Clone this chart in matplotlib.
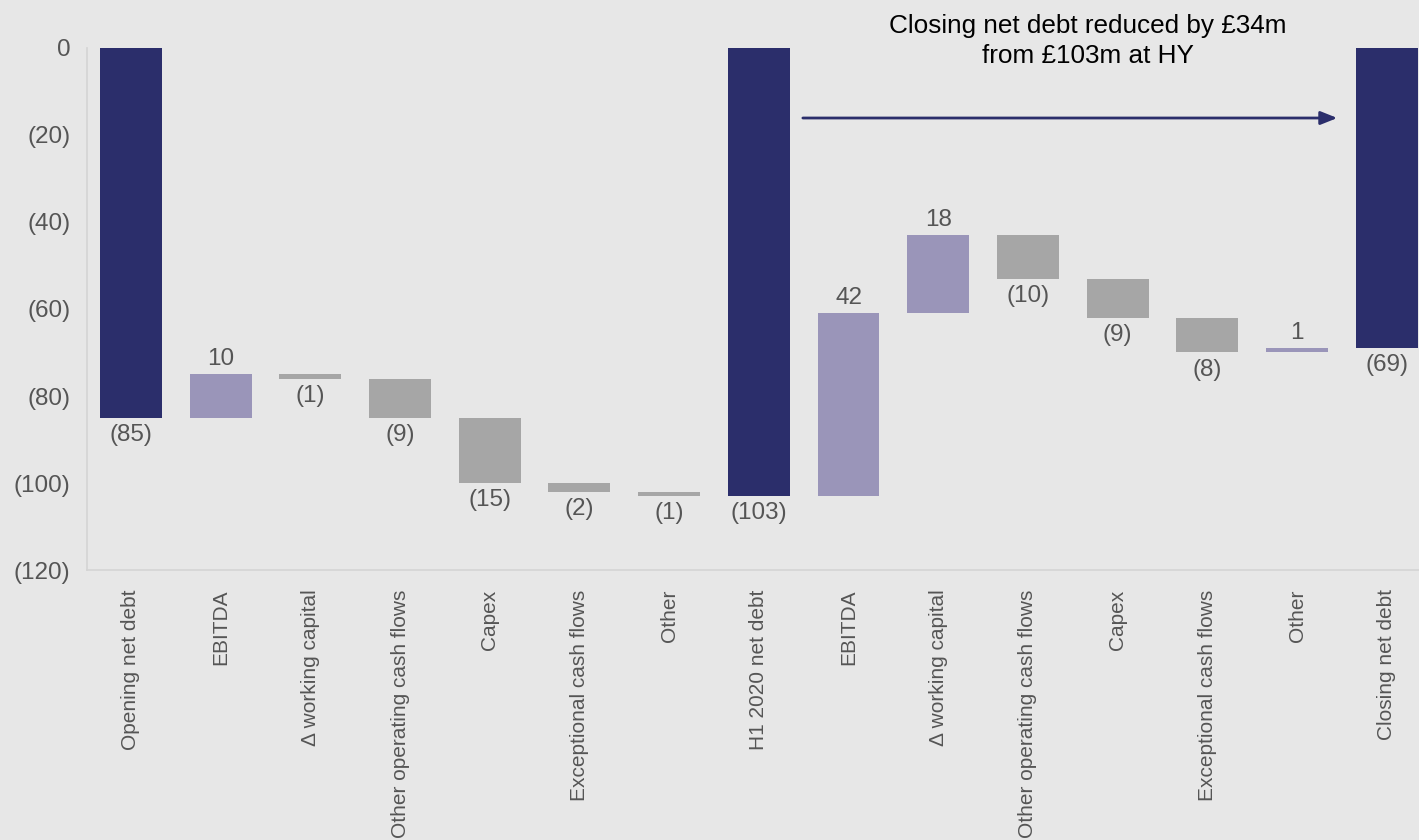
import matplotlib.pyplot as plt
from matplotlib.ticker import FuncFormatter

plt.rcParams['font.family'] = ['Liberation Sans', 'DejaVu Sans']

categories = ["Opening net debt", "EBITDA", "\u0394 working capital",
              "Other operating cash flows", "Capex", "Exceptional cash flows",
              "Other", "H1 2020 net debt", "EBITDA", "\u0394 working capital",
              "Other operating cash flows", "Capex", "Exceptional cash flows",
              "Other", "Closing net debt"]
# movements; totals are given as absolute levels
values = [-85, 10, -1, -9, -15, -2, -1, -103, 42, 18, -10, -9, -8, 1, -69]
is_total = [True, False, False, False, False, False, False, True,
            False, False, False, False, False, False, True]
yticks = [0, -20, -40, -60, -80, -100, -120]

NAVY = "#2b2e6b"
PURPLE = "#9a95b9"
GREY = "#a6a6a6"
BG = "#e7e7e7"
TXT = "#555555"

fig = plt.figure(figsize=(14.19, 8.40), dpi=100, facecolor=BG)
ax = fig.add_axes([0.0613, 0.3214, 0.9387, 0.6215], facecolor=BG)

level = 0
for i, (v, tot) in enumerate(zip(values, is_total)):
    if tot:
        bottom, top = v, 0
        level = v
        color = NAVY
    else:
        start = level
        level = level + v
        bottom, top = min(start, level), max(start, level)
        color = PURPLE if v > 0 else GREY
    ax.bar(i, top - bottom, bottom=bottom, width=0.69, color=color, zorder=2)
    lab = str(v) if v > 0 else f"({abs(v)})"
    if v > 0 and not tot:
        ax.text(i, top + 1.0, lab, ha="center", va="bottom", fontsize=17.5, color=TXT)
    else:
        ax.text(i, bottom - 1.4, lab, ha="center", va="top", fontsize=17.5, color=TXT)

ax.set_ylim(-120, 0)
ax.set_xlim(-0.49, 14.36)
ax.set_yticks(yticks)
ax.yaxis.set_major_formatter(FuncFormatter(lambda y, p: "0" if y == 0 else f"({abs(int(y))})"))
ax.set_xticks(range(len(categories)))
ax.set_xticklabels(categories, rotation=90, fontsize=15, color=TXT, va="top")
ax.tick_params(axis="both", length=0, colors=TXT, labelsize=17.5)
ax.tick_params(axis="x", pad=14, labelsize=15)
ax.tick_params(axis="y", pad=12)
for s in ["top", "right"]:
    ax.spines[s].set_visible(False)
for s in ["left", "bottom"]:
    ax.spines[s].set_color("#d4d4d4")
    ax.spines[s].set_linewidth(1.2)

ax.annotate("", xy=(13.48, -16.1), xytext=(7.46, -16.1),
            arrowprops=dict(arrowstyle="-|>,head_length=1.0,head_width=0.4",
                            color=NAVY, lw=2), zorder=3)
ax.text(10.67, 1.6, "Closing net debt reduced by \u00a334m\nfrom \u00a3103m at HY",
        ha="center", va="center", fontsize=18.8, color="black",
        linespacing=1.3, clip_on=False)

fig.savefig("out.png", dpi=100, facecolor=BG)
